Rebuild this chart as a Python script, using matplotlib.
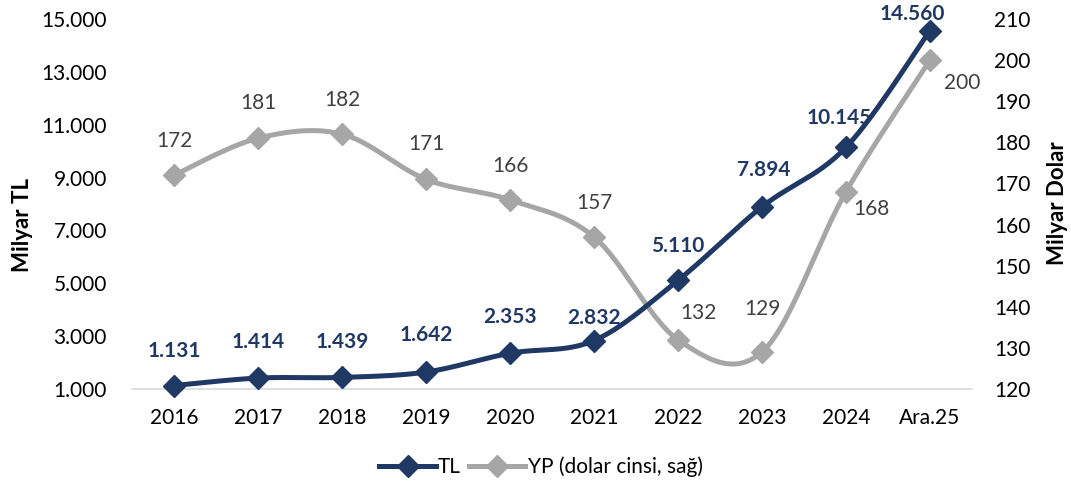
import numpy as np
import matplotlib
matplotlib.use("Agg")
from matplotlib import pyplot as plt
from matplotlib.ticker import FuncFormatter

plt.rcParams['font.family'] = ['Lato', 'DejaVu Sans']

years = ['2016', '2017', '2018', '2019', '2020', '2021', '2022', '2023', '2024', 'Ara.25']
tl = [1131, 1414, 1439, 1642, 2353, 2832, 5110, 7894, 10145, 14560]
yp = [172, 181, 182, 171, 166, 157, 132, 129, 168, 200]

# label offsets in pixels (dx, dy)
tl_off = [(0, 35), (0, 36), (0, 35), (0, 37), (0, 36), (0, 23), (0, 34), (2, 37), (-7, 29), (-18, 17)]
yp_off = [(0, 34), (0, 35), (0, 34), (0, 35), (0, 34), (0, 34), (20, 27), (0, 43), (25, -17), (32, -23)]

NAVY = '#203864'
GRAY = '#A6A6A6'
TXT = '#404040'
FS = 15


def smooth(x, y, n=30):
    # excel style smoothed line: bezier with catmull-rom control points
    x = np.asarray(x, float)
    y = np.asarray(y, float)
    px = np.concatenate([[x[0]], x, [x[-1]]])
    py = np.concatenate([[y[0]], y, [y[-1]]])
    xs, ys = [], []
    t = np.linspace(0, 1, n)
    for i in range(1, len(px) - 2):
        p0 = np.array([px[i], py[i]])
        p3 = np.array([px[i + 1], py[i + 1]])
        p1 = p0 + (np.array([px[i + 1], py[i + 1]]) - np.array([px[i - 1], py[i - 1]])) / 6
        p2 = p3 - (np.array([px[i + 2], py[i + 2]]) - np.array([px[i], py[i]])) / 6
        b = (np.outer((1 - t) ** 3, p0) + np.outer(3 * (1 - t) ** 2 * t, p1)
             + np.outer(3 * (1 - t) * t ** 2, p2) + np.outer(t ** 3, p3))
        xs.extend(b[:, 0])
        ys.extend(b[:, 1])
    return np.array(xs), np.array(ys)


fig = plt.figure(figsize=(10.71, 4.87), dpi=100)
ax = fig.add_axes([132 / 1071, 98 / 487, 840 / 1071, 370 / 487])
ax2 = ax.twinx()
ax.set_zorder(ax2.get_zorder() + 1)
ax.patch.set_visible(False)

x = np.arange(len(years))

sx, sy = smooth(x, yp)
ax2.plot(sx, sy, color=GRAY, lw=3.6, solid_capstyle='round', clip_on=False)
ax2.plot(x, yp, 'D', color=GRAY, ms=11, lw=0, clip_on=False)
for i, v in enumerate(yp):
    ax2.annotate(str(v), (x[i], v), xytext=yp_off[i], textcoords='offset pixels',
                 ha='center', va='center', fontsize=FS, color=TXT)

sx, sy = smooth(x, tl)
ax.plot(sx, sy, color=NAVY, lw=3.6, solid_capstyle='round', clip_on=False)
ax.plot(x, tl, 'D', color=NAVY, ms=11, lw=0, clip_on=False)
for i, v in enumerate(tl):
    ax.annotate(f"{v:,}".replace(',', '.'), (x[i], v), xytext=tl_off[i], textcoords='offset pixels',
                ha='center', va='center', fontsize=FS, color=NAVY, fontweight='bold',
                annotation_clip=False)

ax.set_xlim(-0.5, len(years) - 0.5)
ax.set_ylim(1000, 15000)
ax.set_yticks(range(1000, 15001, 2000))
ax.yaxis.set_major_formatter(FuncFormatter(lambda v, p: f"{int(v):,}".replace(',', '.')))
ax2.set_ylim(120, 210)
ax2.set_yticks(range(120, 211, 10))
ax.set_xticks(x)
ax.set_xticklabels(years)

for a in (ax, ax2):
    for s in a.spines.values():
        s.set_visible(False)
    a.tick_params(length=0, labelsize=FS, colors='black')
ax.spines['bottom'].set_visible(True)
ax.spines['bottom'].set_color('#D9D9D9')
ax.spines['bottom'].set_linewidth(1.2)
ax.spines['bottom'].set_zorder(0)
ax.tick_params(axis='y', pad=18)
ax.tick_params(axis='x', pad=14)
ax2.tick_params(axis='y', pad=16)

ax.set_ylabel('Milyar TL', fontsize=16, fontweight='bold')
ax2.set_ylabel('Milyar Dolar', fontsize=16, fontweight='bold')
ax.yaxis.set_label_coords(-0.118, 0.443)
ax2.yaxis.set_label_coords(1.089, 0.503)

h1, = ax.plot([], [], color=NAVY, lw=3.6, marker='D', ms=11)
h2, = ax.plot([], [], color=GRAY, lw=3.6, marker='D', ms=11)
fig.legend([h1, h2], ['TL', 'YP (dolar cinsi, sağ)'], loc='center', bbox_to_anchor=(541 / 1071, 1 - 467 / 487),
           ncol=2, frameon=False, fontsize=FS, handlelength=2.7, handletextpad=0.1, columnspacing=0.4)

fig.savefig('out.png', dpi=100)
